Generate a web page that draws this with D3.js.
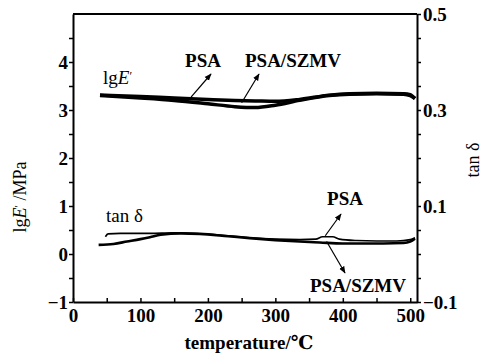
<!DOCTYPE html>
<html>
<head>
<meta charset="utf-8">
<script src="https://cdn.jsdelivr.net/npm/d3@7"></script>
<style>
  body { margin: 0; background: #fff; }
  #chart text { font-family: "Liberation Serif", "Times New Roman", Tinos, "DejaVu Serif", serif !important; }
</style>
</head>
<body>
<svg id="chart" width="484" height="354"></svg>
<script>
// lg E' (left axis)
var modTemp   = [40, 100, 150, 200, 240, 270, 300, 336, 380, 410, 450, 490, 500, 507];
var modPSA    = [3.31, 3.28, 3.25, 3.22, 3.20, 3.19, 3.18, 3.22, 3.31, 3.34, 3.35, 3.34, 3.32, 3.24];
var modSZMV   = [3.30, 3.25, 3.20, 3.13, 3.07, 3.05, 3.10, 3.20, 3.30, 3.33, 3.34, 3.33, 3.30, 3.24];

// tan delta (right axis)
var tanTempPSA  = [48, 52, 70, 114, 150, 188, 230, 262, 300, 336, 360, 370, 385, 395, 420, 450, 480, 500, 507];
var tanPSA      = [0.036, 0.042, 0.043, 0.043, 0.044, 0.042, 0.038, 0.034, 0.031, 0.030, 0.031, 0.036, 0.036, 0.031, 0.028, 0.027, 0.027, 0.030, 0.034];
var tanTempSZMV = [38, 60, 80, 100, 114, 130, 160, 188, 230, 262, 300, 336, 366, 400, 430, 460, 490, 500, 507];
var tanSZMV     = [0.019, 0.021, 0.026, 0.031, 0.035, 0.040, 0.043, 0.042, 0.037, 0.033, 0.029, 0.026, 0.024, 0.022, 0.022, 0.022, 0.023, 0.026, 0.032];

var xTicks = [0, 100, 200, 300, 400, 500];
var leftTicks = [-1, 0, 1, 2, 3, 4];
var rightTicks = [-0.1, 0.1, 0.3, 0.5];

var svg = d3.select('#chart');
var m = {left: 73, right: 417, top: 14, bottom: 302};

var x = d3.scaleLinear().domain([0, 510]).range([m.left, m.right]);
var yL = d3.scaleLinear().domain([-1, 5]).range([m.bottom, m.top]);
var yR = d3.scaleLinear().domain([-0.1, 0.5]).range([m.bottom, m.top]);

// axes
var bottomAxis = d3.axisBottom(x).tickValues(d3.range(0, 510, 50)).tickSizeInner(-4).tickSizeOuter(0)
  .tickFormat(d => xTicks.indexOf(d) >= 0 ? d : '');
var leftAxis = d3.axisLeft(yL).tickValues(d3.range(-1, 5, 0.5)).tickSizeInner(4).tickSizeOuter(0)
  .tickFormat(d => leftTicks.indexOf(d) >= 0 ? d3.format('')(d).replace('-', '\u2212') : '');
var rightAxis = d3.axisRight(yR).tickValues(d3.range(-0.1, 0.501, 0.05)).tickSizeInner(4).tickSizeOuter(0)
  .tickFormat(d => rightTicks.some(t => Math.abs(t - d) < 1e-6) ? d3.format('.1f')(d).replace('-', '\u2212') : '');

function styleAxis(g) {
  g.attr('font-family', null).attr('font-size', 19);
  g.select('.domain').attr('stroke', '#000').attr('stroke-width', 2).attr('fill', 'none');
  g.selectAll('.tick line').attr('stroke', '#000').attr('stroke-width', 1.5);
  g.selectAll('.tick text').attr('fill', '#000').style('font-weight', 'bold');
}

svg.append('g').attr('transform', `translate(0,${m.bottom})`).call(bottomAxis).call(styleAxis)
  .selectAll('.tick text').attr('y', 7);
svg.append('g').attr('transform', `translate(${m.left},0)`).call(leftAxis).call(styleAxis)
  .selectAll('.tick text').attr('x', -5);
svg.append('g').attr('transform', `translate(${m.right},0)`).call(rightAxis).call(styleAxis)
  .selectAll('.tick text').attr('x', 6);
svg.append('line').attr('x1', m.left).attr('x2', m.right).attr('y1', m.top).attr('y2', m.top)
  .attr('stroke', '#000').attr('stroke-width', 2);

// curves
function drawLine(temps, vals, yScale, width) {
  var pts = temps.map((t, i) => [x(t), yScale(vals[i])]);
  svg.append('path')
    .attr('d', d3.line().curve(d3.curveMonotoneX)(pts))
    .attr('fill', 'none').attr('stroke', '#000')
    .attr('stroke-width', width).attr('stroke-linejoin', 'round');
}
drawLine(modTemp, modPSA, yL, 3.5);
drawLine(modTemp, modSZMV, yL, 3.5);
drawLine(tanTempPSA, tanPSA, yR, 1.6);
drawLine(tanTempSZMV, tanSZMV, yR, 2.6);

// annotations
svg.append('defs').append('marker')
  .attr('id', 'arr').attr('viewBox', '0 0 10 10').attr('refX', 9).attr('refY', 5)
  .attr('markerWidth', 6).attr('markerHeight', 6).attr('orient', 'auto')
  .append('path').attr('d', 'M0,1L10,5L0,9Z').attr('fill', '#000');

function note(text, tx, ty, from, to) {
  svg.append('text').attr('x', tx).attr('y', ty).attr('text-anchor', 'middle')
    .attr('font-size', 19).style('font-weight', 'bold').text(text);
  svg.append('line').attr('x1', from[0]).attr('y1', from[1]).attr('x2', to[0]).attr('y2', to[1])
    .attr('stroke', '#000').attr('stroke-width', 1.2).attr('marker-end', 'url(#arr)');
}
note('PSA', 203, 67, [x(175), yL(3.27)], [211, 74]);
note('PSA/SZMV', 293, 67, [x(250), yL(3.15)], [259, 74]);
note('PSA', 345, 205, [x(374), yR(0.038)], [341, 214]);
note('PSA/SZMV', 358, 292, [x(376), yR(0.026)], [345, 273]);

var lg = svg.append('text').attr('x', 103).attr('y', 84).attr('font-size', 19);
lg.append('tspan').text('lg');
lg.append('tspan').attr('font-style', 'italic').text('E');
lg.append('tspan').attr('dy', -4).attr('font-size', 12).text('\u2032');

svg.append('text').attr('x', 106).attr('y', 222).attr('font-size', 19).text('tan \u03b4');

// axis titles
svg.append('text').attr('x', 249).attr('y', 349).attr('text-anchor', 'middle')
  .attr('font-size', 19).style('font-weight', 'bold').text('temperature/\u2103');

var yt = svg.append('text').attr('transform', 'translate(26,197) rotate(-90)')
  .attr('text-anchor', 'middle').attr('font-size', 18);
yt.append('tspan').text('lg');
yt.append('tspan').attr('font-style', 'italic').text('E');
yt.append('tspan').attr('dy', -4).attr('font-size', 11).text('\u2032');
yt.append('tspan').attr('dy', 4).text(' /MPa');

svg.append('text').attr('transform', 'translate(479,160) rotate(-90)')
  .attr('text-anchor', 'middle').attr('font-size', 18).text('tan \u03b4');
</script>
</body>
</html>
